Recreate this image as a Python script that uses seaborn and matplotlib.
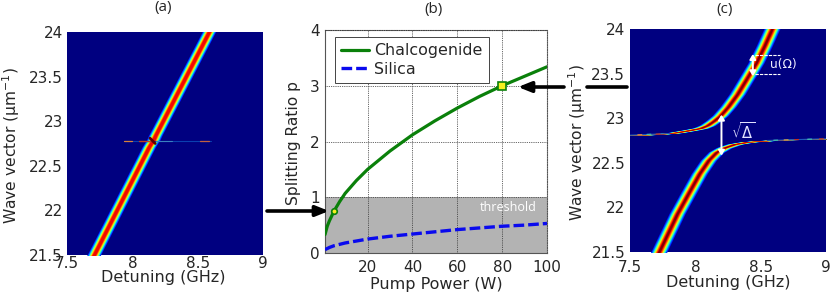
import numpy as np
import pandas as pd
import matplotlib
matplotlib.use("Agg")
import matplotlib.pyplot as plt
import seaborn as sns

# ---- data ----
a_k = [21.4, 22.71, 22.77, 22.79, 22.84, 24.1]
a_det = [7.67, 8.125, 8.15, 8.16, 8.175, 8.62]
a_thin_k = [22.78, 22.78]

c_up_det = [7.40, 7.50, 7.70, 7.85, 7.95, 8.04, 8.09, 8.14, 8.19, 8.25, 8.32, 8.39, 8.464, 8.53, 8.585, 8.62]
c_up_k = [22.805, 22.81, 22.82, 22.84, 22.865, 22.89, 22.92, 22.97, 23.03, 23.13, 23.27, 23.44, 23.62, 23.82, 24.0, 24.1]
c_lo_det = [7.68, 7.72, 7.86, 7.95, 8.03, 8.10, 8.16, 8.22, 8.30, 8.40, 8.55, 8.70, 9.00, 9.10]
c_lo_k = [21.38, 21.5, 21.93, 22.17, 22.38, 22.53, 22.62, 22.67, 22.71, 22.735, 22.75, 22.76, 22.77, 22.772]

power_ch = [1, 2, 3, 5, 7.5, 10, 15, 20, 30, 40, 50, 60, 70, 80, 90, 100]
ratio_ch = [0.33, 0.48, 0.58, 0.75, 0.92, 1.07, 1.30, 1.50, 1.83, 2.12, 2.37, 2.60, 2.81, 3.0, 3.17, 3.34]
power_si = [1, 3, 5, 10, 20, 30, 40, 50, 60, 70, 80, 90, 100]
ratio_si = [0.06, 0.10, 0.13, 0.18, 0.25, 0.30, 0.34, 0.38, 0.42, 0.45, 0.48, 0.50, 0.53]
marker_power = [5, 80]
marker_ratio = [0.75, 3.0]

det_ticks = [7.5, 8, 8.5, 9]
det_labels = ["7.5", "8", "8.5", "9"]
k_ticks = [21.5, 22, 22.5, 23, 23.5, 24]
k_labels = ["21.5", "22", "22.5", "23", "23.5", "24"]
power_ticks = [20, 40, 60, 80, 100]
ratio_ticks = [0, 1, 2, 3, 4]

W, H = 830, 294
sns.set_style("white")
plt.rcParams["font.family"] = ["DejaVu Sans"]
plt.rcParams["mathtext.fontset"] = "dejavusans"
FS = 11.2
XS = 11.5
TS = 11.0
fig = plt.figure(figsize=(W / 100, H / 100), dpi=100)


def box(x0, y0, x1, y1):
    return fig.add_axes([x0 / W, 1 - y1 / H, (x1 - x0) / W, (y1 - y0) / H])


jet = matplotlib.colormaps["jet"]
NAVY = jet(0.0)


def band(ax, det, k, half, top):
    det = np.asarray(det)
    for v in np.linspace(0.14, top, 20):
        d = half * np.sqrt(-np.log(min(v, 0.97))) / np.sqrt(-np.log(0.14))
        ax.fill_betweenx(k, det - d, det + d, color=jet(v), lw=0)


def specks(ax, x0, x1, k0, k1, starts, colors, w=0.03):
    ax.plot([x0, x1], [k0, k1], color="#1c58c0", lw=0.8)
    for s, c in zip(starts, colors):
        t0 = (s - x0) / (x1 - x0)
        t1 = (s + w - x0) / (x1 - x0)
        ax.plot([s, s + w], [k0 + t0 * (k1 - k0), k0 + t1 * (k1 - k0)], color=c, lw=0.9)


def style_map(ax, pad_x, pad_y):
    ax.set_facecolor(NAVY)
    ax.set_xlim(7.5, 9)
    ax.set_ylim(21.5, 24)
    ax.set_xticks(det_ticks, det_labels)
    ax.set_yticks(k_ticks, k_labels)
    ax.tick_params(axis="both", labelsize=TS, length=0)
    ax.tick_params(axis="x", pad=pad_x)
    ax.tick_params(axis="y", pad=pad_y)
    for s in ax.spines.values():
        s.set_visible(False)
    ax.set_xlabel("Detuning (GHz)", fontsize=XS)
    ax.set_ylabel("Wave vector (\u00b5m$^{-1}$)", fontsize=FS)


# ---- panel a ----
axa = box(67, 32, 263, 255)
band(axa, a_det, a_k, 0.052, 0.9)
axa.plot([7.94, 8.60], a_thin_k, color="#0a3fb0", lw=0.8)
axa.plot([7.94, 8.00], a_thin_k, color="#d8803a", lw=0.9)
axa.plot([8.05, 8.14], a_thin_k, color="#c04020", lw=1.0)
axa.plot([8.18, 8.30], a_thin_k, color="#3a80c0", lw=0.8)
axa.plot([8.52, 8.59], a_thin_k, color="#c06040", lw=0.9)
axa.plot([8.135, 8.175], [22.81, 22.75], color="#600000", lw=2.0)
style_map(axa, 1.0, 3)
axa.xaxis.set_label_coords(0.49, -0.102)
axa.yaxis.set_label_coords(-56 / 196, 0.49)
axa.xaxis.label.set_va("center")
axa.yaxis.label.set_va("center")

# ---- panel b ----
axb = box(325, 30, 547, 253)
axb.axhspan(0, 1, color="#b3b3b3", lw=0, zorder=0)
sns.lineplot(x=power_ch, y=ratio_ch, ax=axb, color="#0a800a", lw=2.3, label="Chalcogenide", zorder=3, errorbar=None)
sns.lineplot(x=power_si, y=ratio_si, ax=axb, color="#0a0aee", lw=2.4, label="Silica", zorder=3, errorbar=None,
             linestyle=(0, (3.2, 1.2)))
axb.plot(marker_power[:1], marker_ratio[:1], "o", ms=4, mfc="#f4f020", mec="#0a800a", mew=1.2, zorder=4)
axb.plot(marker_power[1:], marker_ratio[1:], "s", ms=5.5, mfc="#f4f020", mec="#0a800a", mew=1.2, zorder=4)
axb.set_xlim(1, 100)
axb.set_ylim(0, 4)
axb.set_xticks(power_ticks)
axb.set_yticks(ratio_ticks)
axb.tick_params(axis="both", labelsize=TS, length=0)
axb.tick_params(axis="x", pad=5)
axb.tick_params(axis="y", pad=4)
axb.grid(True, color="#333333", ls=(0, (1, 1.2)), lw=0.6, zorder=1)
axb.set_axisbelow(False)
for name, s in axb.spines.items():
    s.set_linewidth(0.8)
    s.set_color("#555555")
    if name in ("top", "right"):
        s.set_linestyle((0, (1, 1.2)))
axb.set_xlabel("Pump Power (W)", fontsize=XS)
axb.set_ylabel("Splitting Ratio p", fontsize=FS)
axb.xaxis.set_label_coords(0.5, -31 / 223)
axb.yaxis.set_label_coords(-32 / 222, 0.495)
axb.xaxis.label.set_va("center")
axb.yaxis.label.set_va("center")
axb.text(95.5, 0.82, "threshold", color="white", fontsize=9, family="Open Sans", ha="right", va="center")
leg = axb.legend(loc="upper left", bbox_to_anchor=(10 / 222, 1 - 7 / 223), borderaxespad=0, fontsize=11.4,
                 frameon=True, fancybox=False, framealpha=1, edgecolor="#444444", facecolor="white",
                 handlelength=1.75, handletextpad=0.3, labelspacing=0.2, borderpad=0.4)
leg.get_frame().set_linewidth(0.7)
leg.set_zorder(5)

# ---- panel c ----
axc = box(630, 29, 826, 252)
band(axc, c_up_det, c_up_k, 0.062, 1.0)
band(axc, c_lo_det, c_lo_k, 0.062, 1.0)
specks(axc, 7.5, 7.8, 22.81, 22.828, [7.56, 7.63, 7.70], ["#e08040", "#40c0b0", "#c03020"])
specks(axc, 8.55, 9.0, 22.75, 22.77, [8.6, 8.68, 8.76, 8.86, 8.95], ["#40c0b0", "#e0a040", "#c03020", "#40c0b0", "#c03020"])
style_map(axc, 5.5, 3.5)
axc.xaxis.set_label_coords(0.5, -31 / 223)
axc.yaxis.set_label_coords(-53 / 196, 0.49)
axc.xaxis.label.set_va("center")
axc.yaxis.label.set_va("center")
arrow_kw = dict(arrowstyle="<|-|>,head_width=0.18,head_length=0.3", color="white", lw=1.4, shrinkA=0, shrinkB=0)
axc.annotate("", xy=(8.2, 23.04), xytext=(8.2, 22.58), arrowprops=arrow_kw)
axc.annotate("", xy=(8.44, 23.72), xytext=(8.44, 23.47), arrowprops=arrow_kw)
axc.plot([8.46, 8.65], [23.71, 23.71], color="white", lw=0.8, ls=(0, (3, 1)))
axc.plot([8.46, 8.65], [23.49, 23.49], color="white", lw=0.8, ls=(0, (3, 1)))
axc.text(8.57, 23.6, "u(\u03a9)", color="#f0f0ff", fontsize=8.8, va="center")
axc.text(8.27, 22.85, r"$\sqrt{\Delta}$", color="#e0e0ff", fontsize=10.5, va="center")

# ---- panel letters and linking arrows ----
for txt, x, y in [("(a)", 163, 8), ("(b)", 433, 9), ("(c)", 725, 10)]:
    fig.text(x / W, 1 - y / H, txt, fontsize=11, family="Open Sans", ha="center", va="center")


def fx(x, y):
    return (x / W, 1 - y / H)


link = dict(arrowstyle="-|>,head_width=0.22,head_length=0.55", color="black", lw=2.6, shrinkA=0, shrinkB=0)
fig.add_artist(matplotlib.patches.FancyArrowPatch(fx(267, 211), fx(329, 211), transform=fig.transFigure, mutation_scale=14, **link))
fig.add_artist(matplotlib.patches.FancyArrowPatch(fx(564, 87), fx(518, 87), transform=fig.transFigure, mutation_scale=14, **link))
fig.add_artist(matplotlib.lines.Line2D([587 / W, 627 / W], [1 - 87 / H, 1 - 87 / H], transform=fig.transFigure, color="black", lw=2.6))

fig.savefig("out.png", dpi=100)
